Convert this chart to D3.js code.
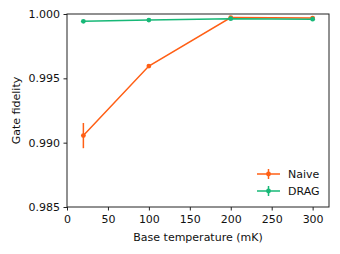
<!DOCTYPE html>
<html lang="en">
<head>
    <meta charset="utf-8">
    <title>Gate fidelity</title>
    <script src="https://cdnjs.cloudflare.com/ajax/libs/d3/7.8.5/d3.min.js"></script>
</head>
<style>
    body { margin: 0; background: #fff; }
    text { font-family: "DejaVu Sans", sans-serif; }
</style>
<body>
    <script>
     // data
     var temps = [20, 100, 200, 300];
     var naive = [0.99055, 0.99595, 0.99972, 0.99968];
     var naiveErr = [0.00098, 0.00006, 0.00005, 0.00005];
     var drag = [0.99943, 0.99953, 0.99964, 0.99960];
     var dragErr = [0.00008, 0.00008, 0.00005, 0.00005];
     var xTicks = [0, 50, 100, 150, 200, 250, 300];
     var yTicks = [0.985, 0.990, 0.995, 1.000];

     var series = [
         {name: "Naive", y: naive, err: naiveErr, color: "#ff5f15"},
         {name: "DRAG", y: drag, err: dragErr, color: "#17b877"}
     ];

     var margin = {left: 67, top: 14, right: 11, bottom: 47};
     var W = 340, H = 254;
     var fs = "11px";

     var x = d3.scaleLinear().domain([0, 320]).range([margin.left, W - margin.right]);
     var y = d3.scaleLinear().domain([0.985, 1.000]).range([H - margin.bottom, margin.top]);

     var svg = d3.select("body").append("svg")
                 .attr("width", W)
                 .attr("height", H);

     var lineFunction = d3.line()
                          .x(function(d) { return x(d[0]); })
                          .y(function(d) { return y(d[1]); });

     var plot = svg.append("g");

     series.forEach(function(s) {
         var pts = temps.map(function(t, i) { return [t, s.y[i], s.err[i]]; });
         plot.append("path")
             .attr("d", lineFunction(pts))
             .attr("stroke", s.color)
             .attr("stroke-width", 1.5)
             .attr("fill", "none");
         plot.selectAll(null).data(pts).enter().append("line")
             .attr("x1", function(d) { return x(d[0]); })
             .attr("x2", function(d) { return x(d[0]); })
             .attr("y1", function(d) { return y(d[1] - d[2]); })
             .attr("y2", function(d) { return y(d[1] + d[2]); })
             .attr("stroke", s.color)
             .attr("stroke-width", 1.5);
         plot.selectAll(null).data(pts).enter().append("circle")
             .attr("cx", function(d) { return x(d[0]); })
             .attr("cy", function(d) { return y(d[1]); })
             .attr("r", 2.4)
             .attr("fill", s.color);
     });

     // frame
     svg.append("rect")
        .attr("x", margin.left)
        .attr("y", margin.top)
        .attr("width", W - margin.left - margin.right)
        .attr("height", H - margin.top - margin.bottom)
        .attr("fill", "none")
        .attr("stroke", "#222")
        .attr("stroke-width", 1);

     var xAxis = svg.append("g")
                    .attr("transform", "translate(0," + (H - margin.bottom) + ")")
                    .call(d3.axisBottom(x).tickValues(xTicks).tickSize(3.5).tickPadding(4.5));
     var yAxis = svg.append("g")
                    .attr("transform", "translate(" + margin.left + ",0)")
                    .call(d3.axisLeft(y).tickValues(yTicks).tickFormat(d3.format(".3f")).tickSize(3.5).tickPadding(3.5));

     [xAxis, yAxis].forEach(function(a) {
         a.select(".domain").remove();
         a.selectAll("line").attr("stroke", "#222");
         a.selectAll("text")
          .attr("fill", "#111")
          .style("font-family", "DejaVu Sans")
          .style("font-size", fs);
     });

     svg.append("text")
        .attr("x", x(160))
        .attr("y", 241)
        .attr("text-anchor", "middle")
        .attr("fill", "#111")
        .style("font-size", fs)
        .text("Base temperature (mK)");

     svg.append("text")
        .attr("transform", "translate(20," + y(0.9925) + ") rotate(-90)")
        .attr("text-anchor", "middle")
        .attr("fill", "#111")
        .style("font-size", fs)
        .text("Gate fidelity");

     // legend
     var legend = svg.append("g");
     series.forEach(function(s, i) {
         var ly = 174 + i * 17;
         legend.append("line")
               .attr("x1", 257).attr("x2", 280)
               .attr("y1", ly).attr("y2", ly)
               .attr("stroke", s.color).attr("stroke-width", 1.5);
         legend.append("line")
               .attr("x1", 268.5).attr("x2", 268.5)
               .attr("y1", ly - 5).attr("y2", ly + 5)
               .attr("stroke", s.color).attr("stroke-width", 1.5);
         legend.append("circle")
               .attr("cx", 268.5).attr("cy", ly).attr("r", 2.4)
               .attr("fill", s.color);
         legend.append("text")
               .attr("x", 288).attr("y", ly + 4)
               .attr("fill", "#111")
               .style("font-size", fs)
               .text(s.name);
     });
    </script>
</body>
</html>
